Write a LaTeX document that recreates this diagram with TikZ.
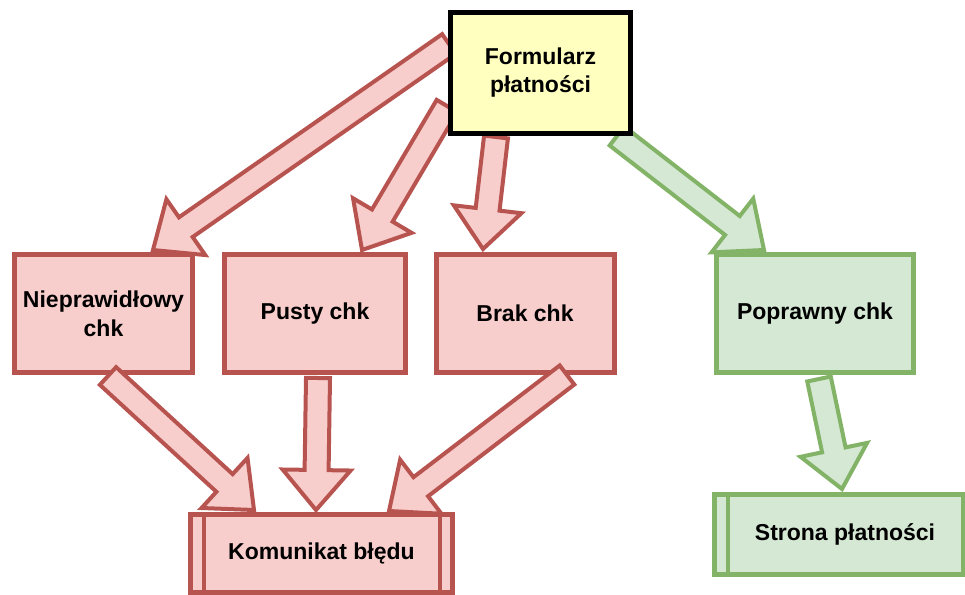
\documentclass[tikz,border=0pt]{standalone}
\usepackage{fontspec}
\setmainfont{Liberation Sans}
\usepackage{tikz}
\usetikzlibrary{calc}
\definecolor{redfill}{HTML}{F8CECC}
\definecolor{redline}{HTML}{B85450}
\definecolor{greenfill}{HTML}{D5E8D4}
\definecolor{greenline}{HTML}{82B366}
\definecolor{yellowfill}{HTML}{FFFFC0}
\tikzset{
  box/.style={draw, rectangle, line width=5pt, inner sep=0pt, outer sep=0pt, align=center, font=\fontsize{23}{29}\selectfont\bfseries},
  redbox/.style={box, draw=redline, fill=redfill},
  greenbox/.style={box, draw=greenline, fill=greenfill},
  redarrow/.style={draw=redline, fill=redfill, line width=4pt, line join=miter},
  greenarrow/.style={draw=greenline, fill=greenfill, line width=4pt, line join=miter}
}
\newcommand{\fatarrow}[3]{%
  \coordinate (hb) at ($(#3)!40pt!(#2)$);
  \draw[#1] ($(#2)!12pt!-90:(#3)$) -- ($(hb)!12pt!90:(#2)$) -- ($(hb)!34pt!90:(#2)$) -- (#3)
    -- ($(hb)!34pt!-90:(#2)$) -- ($(hb)!12pt!-90:(#2)$) -- ($(#2)!12pt!90:(#3)$) -- cycle;
}

\begin{document}
\begin{tikzpicture}[x=1pt, y=-1pt]
            \useasboundingbox (0,0) rectangle (965,594);

            \node (niep) at (103.5,313.5) [redbox, minimum width=178pt, minimum height=118pt] {Nieprawidłowy\\chk};
            \node (pusty) at (315,313.5) [redbox, minimum width=181pt, minimum height=118pt] {Pusty chk};
            \node (brak) at (525,313.5) [redbox, minimum width=178pt, minimum height=118pt] {Brak chk};
            \node (popr) at (815,313.5) [greenbox, minimum width=197pt, minimum height=118pt] {Poprawny chk};
            \node (kom) at (321.5,553.5) [redbox, minimum width=262pt, minimum height=78pt] {Komunikat błędu};
            \node (strona) at (845,534.5) [greenbox, minimum width=261pt, minimum height=80pt] {Strona płatności};

            \draw[redline, line width=4pt] ([xshift=13pt]kom.north west) -- ([xshift=13pt]kom.south west);
            \draw[redline, line width=4pt] ([xshift=-13pt]kom.north east) -- ([xshift=-13pt]kom.south east);
            \draw[greenline, line width=4pt] ([xshift=13pt]strona.north west) -- ([xshift=13pt]strona.south west);
            \draw[greenline, line width=4pt] ([xshift=-13pt]strona.north east) -- ([xshift=-13pt]strona.south east);

            \coordinate (niepout) at (449,44);
            \coordinate (niepin) at (153,250);
            \coordinate (pustyout) at (447,106);
            \coordinate (pustyin) at (362,250);
            \coordinate (brakout) at (496,137);
            \coordinate (brakin) at (483,249);
            \coordinate (poprout) at (617,136);
            \coordinate (poprin) at (764,250);
            \coordinate (stronaout) at (819,379);
            \coordinate (stronain) at (842,489);
            \coordinate (kom1out) at (108,376);
            \coordinate (kom1in) at (254,510);
            \coordinate (kom2out) at (318,378);
            \coordinate (kom2in) at (316,510);
            \coordinate (kom3out) at (567,375);
            \coordinate (kom3in) at (389,511);

            \fatarrow{redarrow}{niepout}{niepin}
            \fatarrow{redarrow}{pustyout}{pustyin}
            \fatarrow{redarrow}{brakout}{brakin}
            \fatarrow{greenarrow}{poprout}{poprin}
            \fatarrow{greenarrow}{stronaout}{stronain}
            \fatarrow{redarrow}{kom1out}{kom1in}
            \fatarrow{redarrow}{kom2out}{kom2in}
            \fatarrow{redarrow}{kom3out}{kom3in}

            \node (form) at (540.5,73) [box, draw=black, fill=yellowfill, minimum width=180pt, minimum height=121pt, font=\fontsize{23}{28}\selectfont\bfseries] {Formularz\\płatności};
\end{tikzpicture}
\end{document}
